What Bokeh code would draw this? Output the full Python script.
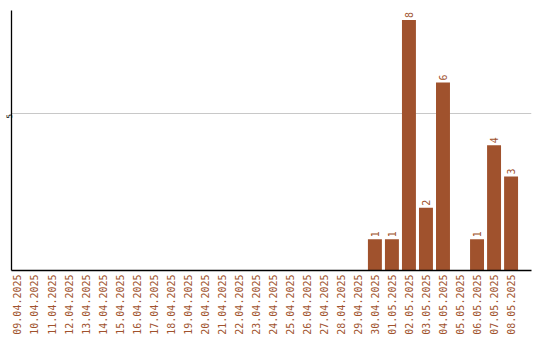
import math
from bokeh.plotting import figure
from bokeh.models import ColumnDataSource, FixedTicker, Range1d
from bokeh.core.properties import value
from bokeh.embed import file_html
from bokeh.resources import INLINE

dates = ["09.04.2025", "10.04.2025", "11.04.2025", "12.04.2025", "13.04.2025",
         "14.04.2025", "15.04.2025", "16.04.2025", "17.04.2025", "18.04.2025",
         "19.04.2025", "20.04.2025", "21.04.2025", "22.04.2025", "23.04.2025",
         "24.04.2025", "25.04.2025", "26.04.2025", "27.04.2025", "28.04.2025",
         "29.04.2025", "30.04.2025", "01.05.2025", "02.05.2025", "03.05.2025",
         "04.05.2025", "05.05.2025", "06.05.2025", "07.05.2025", "08.05.2025"]
counts = [0, 0, 0, 0, 0, 0, 0, 0, 0, 0,
          0, 0, 0, 0, 0, 0, 0, 0, 0, 0,
          0, 1, 1, 8, 2, 6, 0, 1, 4, 3]
y_ticks = [5]

BAR = "#A0522D"
FONT = "DejaVu Sans Mono"

xs = list(range(len(dates)))
src = ColumnDataSource(dict(x=xs, y=counts))

p = figure(width=540, height=340, output_backend="svg", toolbar_location=None,
           x_range=Range1d(-0.35, 30.2), y_range=Range1d(0, 8.3),
           min_border_left=0, min_border_right=9, min_border_top=10, min_border_bottom=70)
p.outline_line_color = None
p.background_fill_color = "white"
p.border_fill_color = "white"

p.vbar(x="x", top="y", width=0.82, source=src, color=BAR, line_color=None)
nz = ColumnDataSource(dict(x=[x for x, c in zip(xs, counts) if c > 0],
                           y=[c for c in counts if c > 0],
                           lbl=[str(c) for c in counts if c > 0]))
p.text(x="x", y="y", text="lbl", source=nz, angle=math.pi / 2,
       text_align="left", text_baseline="middle", x_offset=0, y_offset=-2,
       text_font=value(FONT), text_font_size="10px", text_color=BAR)

p.xaxis.ticker = FixedTicker(ticks=xs)
p.xaxis.major_label_overrides = {i: d for i, d in enumerate(dates)}
p.xaxis.major_label_orientation = math.pi / 2
p.xaxis.major_label_text_font = FONT
p.xaxis.major_label_text_font_size = "10px"
p.xaxis.major_label_text_color = BAR
p.xaxis.major_tick_out = 0
p.xaxis.major_tick_in = 0
p.xaxis.minor_tick_out = 0
p.xaxis.minor_tick_in = 0
p.xaxis.axis_line_color = "black"
p.xaxis.axis_line_width = 1.3
p.xaxis.major_label_standoff = 4

p.yaxis.ticker = FixedTicker(ticks=y_ticks)
p.yaxis.major_label_orientation = math.pi / 2
p.yaxis.major_label_text_font = FONT
p.yaxis.major_label_text_font_size = "7.5px"
p.yaxis.major_label_text_color = "black"
p.yaxis.major_tick_out = 0
p.yaxis.major_tick_in = 0
p.yaxis.minor_tick_out = 0
p.yaxis.minor_tick_in = 0
p.yaxis.axis_line_color = "black"
p.yaxis.axis_line_width = 1.3
p.yaxis.major_label_standoff = 2

p.xgrid.grid_line_color = None
p.ygrid.ticker = FixedTicker(ticks=y_ticks)
p.ygrid.grid_line_color = "#c8c8c8"

open("out.html", "w").write(file_html(p, INLINE))
